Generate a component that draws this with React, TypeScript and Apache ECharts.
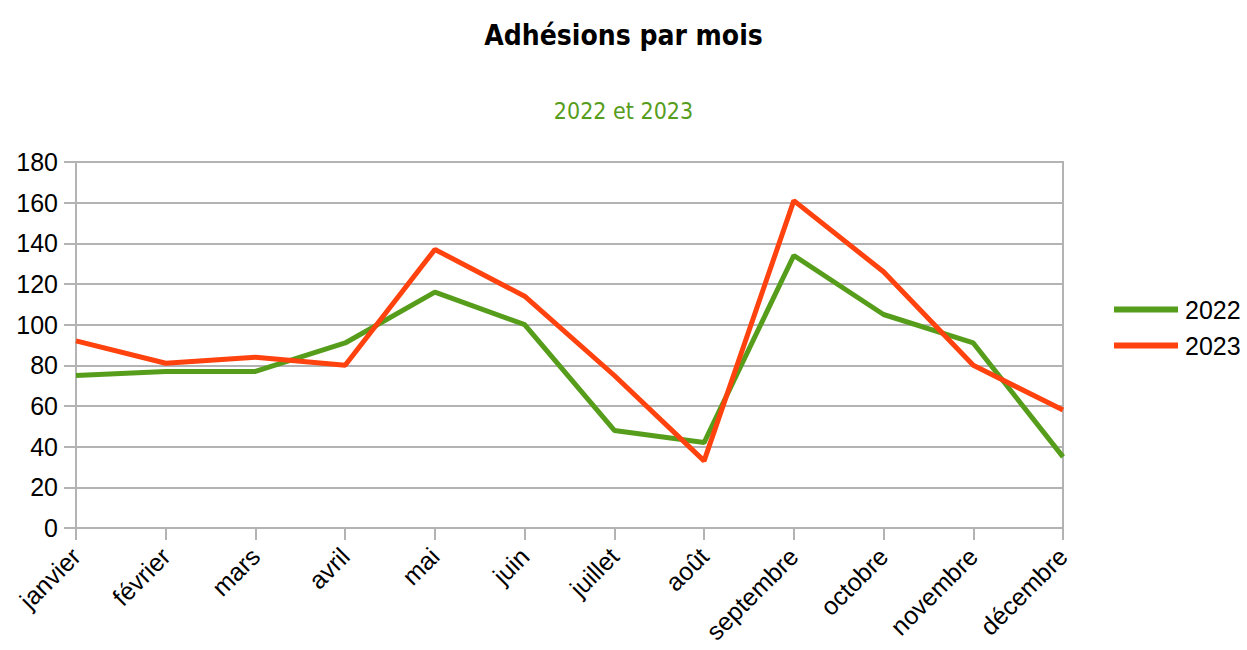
import React, { useEffect, useRef } from "react";
import * as echarts from "echarts";

const months = ["janvier", "février", "mars", "avril", "mai", "juin", "juillet", "août", "septembre", "octobre", "novembre", "décembre"];
const values2022 = [75, 77, 77, 91, 116, 100, 48, 42, 134, 105, 91, 35];
const values2023 = [92, 81, 84, 80, 137, 114, 75, 33, 161, 126, 80, 58];

export default function App() {
  const ref = useRef<HTMLDivElement>(null);
  useEffect(() => {
    const chart = echarts.init(ref.current!, null, { renderer: "svg" });
    chart.setOption({
      animation: false,
      backgroundColor: "#ffffff",
      title: [
        {
          text: "Adhésions par mois",
          left: "center",
          top: 16,
          textStyle: { fontFamily: "DejaVu Sans Condensed, DejaVu Sans", fontSize: 28, fontWeight: "bold", color: "#000" },
        },
        {
          text: "2022 et 2023",
          left: "center",
          top: 94,
          textStyle: { fontFamily: "DejaVu Sans Condensed, DejaVu Sans", fontSize: 23, fontWeight: "normal", color: "#579d1c" },
        },
      ],
      legend: {
        orient: "vertical",
        left: 1109,
        top: 292,
        itemWidth: 64,
        itemHeight: 6,
        itemGap: 11,
        icon: "rect",
        textStyle: { fontFamily: "Liberation Sans", fontSize: 25, color: "#000", padding: [0, 0, 0, 2] },
        data: ["2022", "2023"],
      },
      grid: {
        left: 76,
        right: 184,
        top: 162,
        bottom: 122,
        show: true,
        borderColor: "#b3b3b3",
        borderWidth: 2,
        containLabel: false,
        outerBoundsMode: "none",
      },
      xAxis: {
        type: "category",
        data: months,
        boundaryGap: false,
        axisLine: { lineStyle: { color: "#b3b3b3", width: 2 } },
        axisTick: { show: true, length: 12, lineStyle: { color: "#b3b3b3", width: 2 } },
        axisLabel: { rotate: 45, fontFamily: "Liberation Sans", fontSize: 25, color: "#000", margin: 24, interval: 0 },
      },
      yAxis: {
        type: "value",
        min: 0,
        max: 180,
        interval: 20,
        axisLine: { show: true, lineStyle: { color: "#b3b3b3", width: 2 } },
        axisTick: { show: true, length: 12, lineStyle: { color: "#b3b3b3", width: 2 } },
        axisLabel: { fontFamily: "Liberation Sans", fontSize: 25, color: "#000", margin: 18 },
        splitLine: { show: true, lineStyle: { color: "#b3b3b3", width: 2 } },
      },
      series: [
        {
          name: "2022",
          type: "line",
          data: values2022,
          symbol: "none",
          lineStyle: { color: "#579d1c", width: 5 },
          itemStyle: { color: "#579d1c" },
        },
        {
          name: "2023",
          type: "line",
          data: values2023,
          symbol: "none",
          lineStyle: { color: "#ff420e", width: 5 },
          itemStyle: { color: "#ff420e" },
        },
      ],
    });
    return () => chart.dispose();
  }, []);
  return <div ref={ref} style={{ width: 1247, height: 650, position: "absolute", left: 0, top: 0 }} />;
}
